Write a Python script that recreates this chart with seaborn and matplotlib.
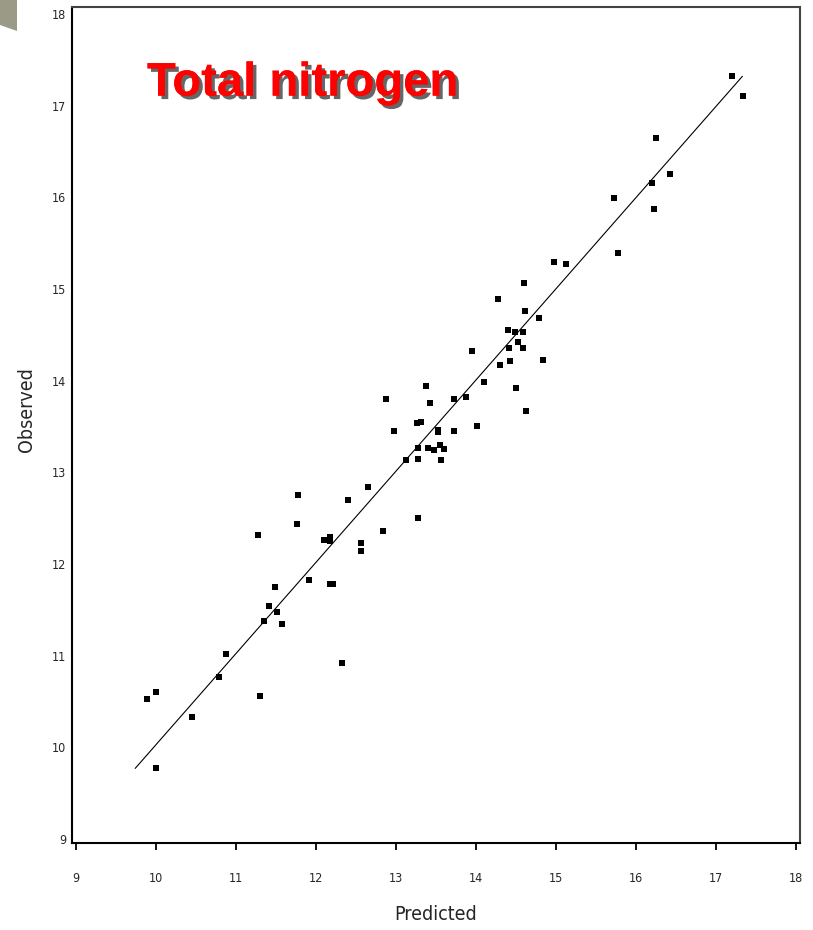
import matplotlib
matplotlib.use("Agg")
import matplotlib.pyplot as plt
import matplotlib.patheffects as pe
from matplotlib.patches import Polygon
import pandas as pd
import seaborn as sns

# values
predicted = [9.89, 10.00, 10.00, 10.45, 10.79, 10.88, 11.30, 11.28, 11.35, 11.41,
             11.49, 11.51, 11.58, 11.76, 11.78, 11.91, 12.10, 12.18, 12.18, 12.17,
             12.21, 12.32, 12.40, 12.56, 12.56, 12.65, 12.84, 12.88, 12.98, 13.12,
             13.26, 13.31, 13.28, 13.28, 13.28, 13.37, 13.40, 13.42, 13.48, 13.52,
             13.52, 13.55, 13.56, 13.60, 13.73, 13.73, 13.88, 13.95, 14.01, 14.10,
             14.28, 14.30, 14.40, 14.41, 14.43, 14.49, 14.50, 14.53, 14.59, 14.59,
             14.60, 14.61, 14.63, 14.79, 14.84, 14.97, 15.12, 15.73, 15.77, 16.20,
             16.23, 16.25, 16.42, 17.20, 17.34]
observed = [10.53, 10.60, 9.77, 10.33, 10.77, 11.02, 10.56, 12.32, 11.38, 11.54,
            11.75, 11.48, 11.35, 12.44, 12.75, 11.82, 12.26, 12.29, 12.25, 11.78,
            11.78, 10.92, 12.70, 12.23, 12.14, 12.84, 12.36, 13.80, 13.45, 13.13,
            13.54, 13.55, 12.50, 13.15, 13.27, 13.94, 13.26, 13.76, 13.24, 13.46,
            13.44, 13.30, 13.13, 13.25, 13.80, 13.45, 13.82, 14.32, 13.50, 13.99,
            14.89, 14.17, 14.55, 14.36, 14.21, 14.53, 13.92, 14.42, 14.53, 14.36,
            15.06, 14.76, 13.67, 14.68, 14.23, 15.29, 15.27, 15.99, 15.39, 16.16,
            15.87, 16.65, 16.25, 17.32, 17.11]
fit_x = [9.74, 17.33]
fit_y = [9.77, 17.32]
ticks = [9, 10, 11, 12, 13, 14, 15, 16, 17, 18]

sns.set_style("white")
plt.rcParams["font.family"] = ["DejaVu Sans"]
plt.rcParams["font.stretch"] = "condensed"

df = pd.DataFrame({"Predicted": predicted, "Observed": observed})
fit = pd.DataFrame({"x": fit_x, "y": fit_y})

fig = plt.figure(figsize=(8.13, 9.30), dpi=100)
ax = fig.add_axes([72 / 813, 1 - 843 / 930, 728 / 813, 836 / 930])

sns.lineplot(data=fit, x="x", y="y", ax=ax, color="black", linewidth=0.8)
sns.scatterplot(data=df, x="Predicted", y="Observed", ax=ax, color="black",
                marker="s", s=13, linewidth=0)

ax.set_xlim(8.95, 18.05)
ax.set_ylim(8.956, 18.076)
ax.set_xticks(ticks)
ax.set_yticks(ticks)
ax.set_xticklabels([str(t) for t in ticks])
ax.set_yticklabels([str(t) for t in ticks])
ax.tick_params(axis="x", direction="out", length=5, width=1.3, pad=16,
               labelsize=9, color="black", bottom=True)
ax.tick_params(axis="y", length=0, pad=4, labelsize=9, left=True)

for side in ["left", "bottom"]:
    ax.spines[side].set_color("black")
    ax.spines[side].set_linewidth(1.5)
for side in ["top", "right"]:
    ax.spines[side].set_color("#444444")
    ax.spines[side].set_linewidth(1.5)

ax.set_xlabel("Predicted", fontsize=14, labelpad=14)
ax.set_ylabel("Observed", fontsize=14)
ax.yaxis.set_label_coords(-0.05, 0.518)

title = ax.text(0.103, 0.894, "Total nitrogen", transform=ax.transAxes,
                fontsize=34, fontweight="bold", color="#ff0000", fontstretch="normal",
                family=["Liberation Sans", "DejaVu Sans"], va="baseline")
title.set_path_effects([pe.withSimplePatchShadow(offset=(2.5, -2.5),
                                                 shadow_rgbFace="black", alpha=0.6),
                        pe.Normal()])

# slide decoration in the top-left corner
fig.patches.append(Polygon([[0, 1], [17 / 813, 1], [17 / 813, 1 - 31 / 930], [0, 1 - 25 / 930]],
                           closed=True, transform=fig.transFigure,
                           facecolor="#9a9a86", edgecolor="none"))

fig.savefig("out.png", dpi=100)
